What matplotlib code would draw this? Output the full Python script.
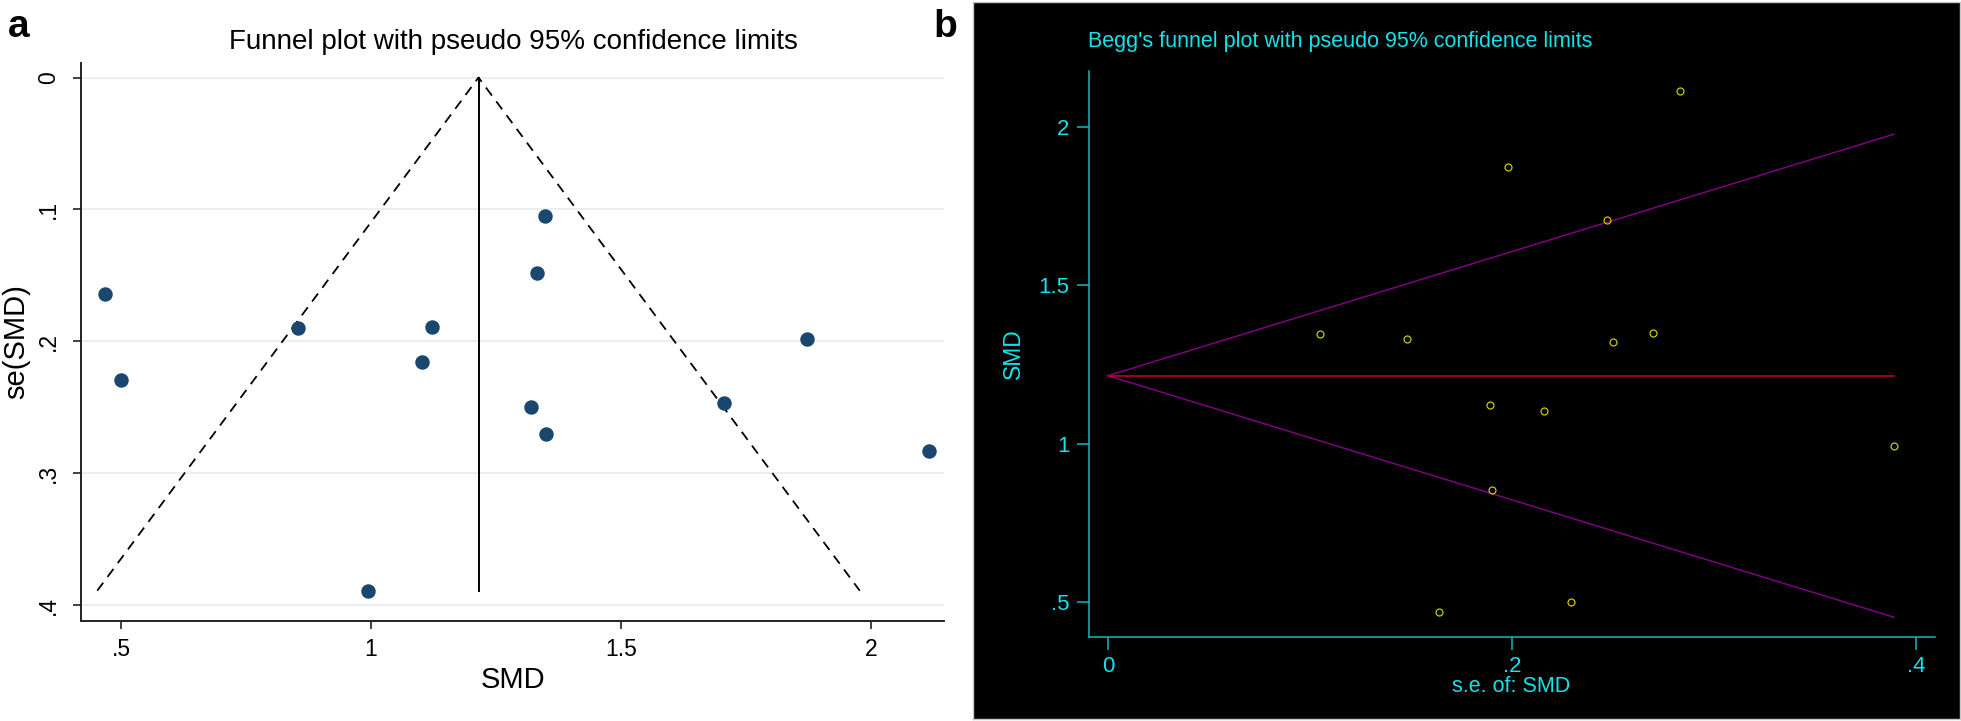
import numpy as np
import matplotlib
matplotlib.use('Agg')
import matplotlib.pyplot as plt

plt.rcParams['font.family'] = ['Liberation Sans', 'DejaVu Sans']

# study level data
smd = [0.468, 0.500, 0.854, 1.123, 1.103, 0.994, 1.348, 1.332, 1.320, 1.350, 1.707, 1.873, 2.115]
se_smd = [0.164, 0.229, 0.190, 0.189, 0.216, 0.389, 0.105, 0.148, 0.250, 0.270, 0.247, 0.198, 0.283]
pooled = 1.215
z95 = 1.96

a_xticks = [0.5, 1, 1.5, 2]
a_xticklabels = ['.5', '1', '1.5', '2']
a_yticks = [0, 0.1, 0.2, 0.3, 0.4]
a_yticklabels = ['0', '.1', '.2', '.3', '.4']
b_xticks = [0, 0.2, 0.4]
b_xticklabels = ['0', '.2', '.4']
b_yticks = [0.5, 1, 1.5, 2]
b_yticklabels = ['.5', '1', '1.5', '2']

W, H = 1961, 721
fig = plt.figure(figsize=(W / 100, H / 100), dpi=100)

def box(l, t, r, b):
    return [l / W, 1 - b / H, (r - l) / W, (b - t) / H]

se_max = max(se_smd)
lim_lo = pooled - z95 * se_max
lim_hi = pooled + z95 * se_max

# ---- panel a
ax = fig.add_axes(box(81, 63, 944, 621))
ax.set_xlim(0.42, 2.146)
ax.set_ylim(0.412, -0.011)
for v in a_yticks:
    ax.axhline(v, color='#e6eff1', lw=1.3, zorder=0)
ax.plot([lim_lo, pooled, lim_hi], [se_max, 0, se_max], color='black', lw=1.3,
        dashes=(5.5, 4))
ax.plot([pooled, pooled], [0, se_max], color='black', lw=1.4)
ax.plot(smd, se_smd, 'o', color='#1a476f', ms=9.4, mec='#1a476f', zorder=3)
ax.spines['top'].set_visible(False)
ax.spines['right'].set_visible(False)
for s in ['left', 'bottom']:
    ax.spines[s].set_linewidth(1.4)
    ax.spines[s].set_color('#222222')
ax.set_xticks(a_xticks)
ax.set_xticklabels(a_xticklabels)
ax.set_yticks(a_yticks)
ax.set_yticklabels(a_yticklabels, rotation=90, va='center')
ax.tick_params(length=6, width=1.2, color='#222222', labelsize=16.5, pad=6)
ax.tick_params(axis='y', pad=9)
ax.set_xlabel('SMD', fontsize=21, va='center')
ax.xaxis.set_label_coords(0.5, -0.1057)
ax.set_ylabel('se(SMD)', fontsize=21, va='center', ha='center')
ax.yaxis.set_label_coords(-0.0753, 0.5)
fig.text(513 / W, 1 - 42 / H, 'Funnel plot with pseudo 95% confidence limits',
         fontsize=20, ha='center', va='center')
fig.text(19 / W, 1 - 27 / H, 'a', fontsize=28, fontweight='bold', ha='center', va='center')
fig.text(945 / W, 1 - 27 / H, 'b', fontsize=28, fontweight='bold', ha='center', va='center')

# ---- panel b
cyan = '#12e4ea'
cyan_ax = '#12b8c0'
bg = fig.add_axes(box(973, 2, 1960, 719))
bg.set_facecolor('black')
bg.set_xticks([])
bg.set_yticks([])
for s in bg.spines.values():
    s.set_color('#c8c8c8')
    s.set_linewidth(1)

bx = fig.add_axes(box(1089, 71, 1935, 637))
bx.patch.set_alpha(0)
bx.set_xlim(-0.0094, 0.4094)
bx.set_ylim(0.39, 2.177)
bx.plot([0, se_max], [pooled, lim_hi], color='#800080', lw=1.1)
bx.plot([0, se_max], [pooled, lim_lo], color='#800080', lw=1.1)
bx.plot([0, se_max], [pooled, pooled], color='#b0001e', lw=1.3)
bx.plot(se_smd, smd, 'o', mfc='none', mec='#c8c800', ms=5, mew=0.9, zorder=3)
bx.spines['top'].set_visible(False)
bx.spines['right'].set_visible(False)
for s in ['left', 'bottom']:
    bx.spines[s].set_linewidth(1.1)
    bx.spines[s].set_color(cyan_ax)
bx.set_xticks(b_xticks)
bx.set_xticklabels(b_xticklabels)
bx.set_yticks(b_yticks)
bx.set_yticklabels(b_yticklabels)
bx.tick_params(length=9, width=1.1, color=cyan_ax, labelcolor=cyan, labelsize=16, pad=5)
bx.set_xlabel('s.e. of: SMD', fontsize=15.5, color=cyan, va='center')
bx.xaxis.set_label_coords(0.4988, -0.0883)
bx.set_ylabel('SMD', fontsize=16.5, color=cyan, va='center', ha='center')
bx.yaxis.set_label_coords(-0.0887, 0.5)
fig.text(1088 / W, 1 - 42 / H, "Begg's funnel plot with pseudo 95% confidence limits",
         fontsize=15.5, color=cyan, ha='left', va='center')

fig.savefig('out.png', dpi=100)
